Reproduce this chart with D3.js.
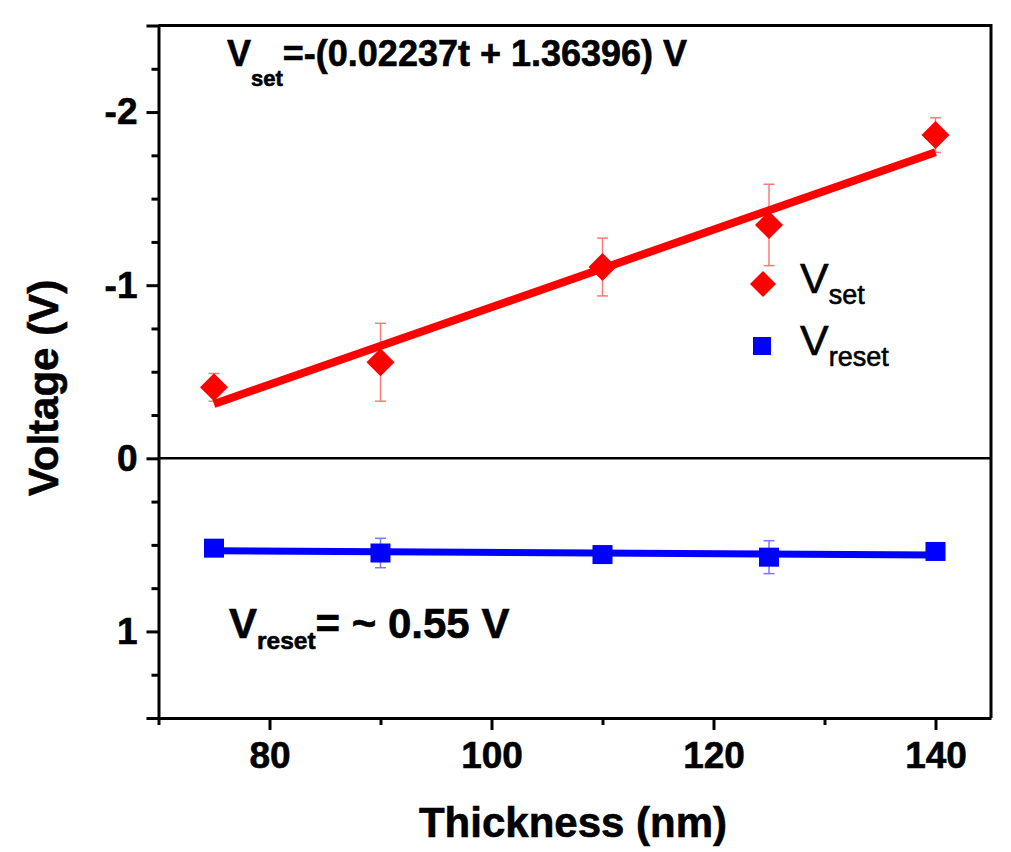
<!DOCTYPE html>
<html>
<head>
<meta charset="utf-8">
<script src="https://cdn.jsdelivr.net/npm/d3@7/dist/d3.min.js"></script>
<style>
  body { margin: 0; background: #fff; }
  svg { font-family: "Liberation Sans", Arial, sans-serif; }
  svg text { stroke: #000; stroke-width: 0.6px; }
</style>
</head>
<body>
<div id="chart"></div>
<script>
// thickness (nm) of the samples
var thickness = [75, 90, 110, 125, 140];

// V_set and V_reset (V), with error bars
var vSet = [-0.41, -0.555, -1.105, -1.348, -1.867];
var vSetErr = [0.08, 0.225, 0.167, 0.235, 0.1];
var vReset = [0.519, 0.547, 0.556, 0.571, 0.538];
var vResetErr = [0.03, 0.085, 0.03, 0.095, 0.03];

// linear fit of V_set: V = -(slope * t - offset)
var setFit = [0.02237, 1.36396];

var xMajorTicks = [80, 100, 120, 140];
var xMinorTicks = [70, 90, 110, 130];
var yMajorTicks = [-2, -1, 0, 1];
var yMinorTicks = [-2.25, -1.75, -1.5, -1.25, -0.75, -0.5, -0.25, 0.25, 0.5, 0.75, 1.25];

var legendNames = ['set', 'reset'];

(function() {
  var W = 1011, H = 852;
  var pLeft = 158.5, pRight = 991, pTop = 25.5, pBottom = 718;

  var svg = d3.select('#chart').append('svg')
              .attr('width', W).attr('height', H);

  var x = d3.scaleLinear().domain([70, 145]).range([pLeft, pRight]);
  var y = d3.scaleLinear().domain([-2.5, 1.5]).range([pTop, pBottom]);

  // axes
  svg.append('g')
    .attr('transform', 'translate(0,' + pBottom + ')')
    .call(d3.axisBottom(x).tickValues(xMajorTicks).tickSize(12).tickSizeOuter(0).tickPadding(12));
  var xMinor = svg.append('g')
    .attr('transform', 'translate(0,' + pBottom + ')')
    .call(d3.axisBottom(x).tickValues(xMinorTicks).tickSize(7).tickFormat(''));
  xMinor.select('.domain').remove();

  svg.append('g')
    .attr('transform', 'translate(' + pLeft + ',0)')
    .call(d3.axisLeft(y).tickValues(yMajorTicks).tickSize(12).tickSizeOuter(12).tickPadding(9)
          .tickFormat(function(d) { return String(d); }));
  var yMinor = svg.append('g')
    .attr('transform', 'translate(' + pLeft + ',0)')
    .call(d3.axisLeft(y).tickValues(yMinorTicks).tickSize(7).tickFormat(''));
  yMinor.select('.domain').remove();

  svg.selectAll('.domain, .tick line')
    .attr('stroke', '#000').attr('stroke-width', 3);
  svg.selectAll('.tick text')
    .attr('fill', '#000')
    .style('font-size', '37px').style('font-weight', 'bold')
    .style('font-family', '"Liberation Sans", Arial, sans-serif');

  // top and right frame
  svg.append('path')
    .attr('d', 'M' + pLeft + ',' + pTop + 'H' + pRight + 'V' + pBottom)
    .attr('fill', 'none').attr('stroke', '#000').attr('stroke-width', 3);

  // zero line
  svg.append('line')
    .attr('x1', pLeft).attr('x2', pRight)
    .attr('y1', y(0)).attr('y2', y(0))
    .attr('stroke', '#000').attr('stroke-width', 2.5);

  // axis titles
  svg.append('text')
    .attr('x', 573).attr('y', 837)
    .attr('text-anchor', 'middle')
    .style('font-size', '42px').style('font-weight', 'bold')
    .text('Thickness (nm)');
  svg.append('text')
    .attr('transform', 'translate(58,388) rotate(-90)')
    .attr('text-anchor', 'middle')
    .style('font-size', '42px').style('font-weight', 'bold')
    .text('Voltage (V)');

  var setPts = thickness.map(function(t, i) { return {t: t, v: vSet[i], e: vSetErr[i]}; });
  var resetPts = thickness.map(function(t, i) { return {t: t, v: vReset[i], e: vResetErr[i]}; });

  var drawErrors = function(pts, color) {
    var g = svg.append('g').attr('stroke', color).attr('stroke-width', 1.5);
    pts.forEach(function(d) {
      var cx = x(d.t), y1 = y(d.v - d.e), y2 = y(d.v + d.e);
      g.append('line').attr('x1', cx).attr('x2', cx).attr('y1', y1).attr('y2', y2);
      g.append('line').attr('x1', cx - 5.5).attr('x2', cx + 5.5).attr('y1', y1).attr('y2', y1);
      g.append('line').attr('x1', cx - 5.5).attr('x2', cx + 5.5).attr('y1', y2).attr('y2', y2);
    });
  };

  drawErrors(setPts, '#ff7a7a');
  drawErrors(resetPts, '#7a7aff');

  // V_set fit line from the equation
  var tEnds = [d3.min(thickness), d3.max(thickness)];
  var line = d3.line().x(function(d) { return x(d[0]); }).y(function(d) { return y(d[1]); });
  svg.append('path')
    .datum(tEnds.map(function(t) { return [t, -(setFit[0] * t - setFit[1])]; }))
    .attr('d', line)
    .attr('fill', 'none').attr('stroke', '#ff0000').attr('stroke-width', 8);

  // V_reset: least squares line through the points
  var tMean = d3.mean(thickness), vMean = d3.mean(vReset);
  var sxy = d3.sum(thickness, function(t, i) { return (t - tMean) * (vReset[i] - vMean); });
  var sxx = d3.sum(thickness, function(t) { return (t - tMean) * (t - tMean); });
  var k = sxy / sxx;
  svg.append('path')
    .datum(tEnds.map(function(t) { return [t, vMean + k * (t - tMean)]; }))
    .attr('d', line)
    .attr('fill', 'none').attr('stroke', '#0000ff').attr('stroke-width', 7);

  // markers
  var diamond = function(s) { return 'M0,' + (-s) + 'L' + s + ',0L0,' + s + 'L' + (-s) + ',0Z'; };
  svg.append('g').selectAll('path').data(setPts).enter().append('path')
    .attr('d', diamond(14))
    .attr('transform', function(d) { return 'translate(' + x(d.t) + ',' + y(d.v) + ')'; })
    .attr('fill', '#ff0000');
  svg.append('g').selectAll('rect').data(resetPts).enter().append('rect')
    .attr('x', function(d) { return x(d.t) - 10; })
    .attr('y', function(d) { return y(d.v) - 9.5; })
    .attr('width', 20).attr('height', 19)
    .attr('fill', '#0000ff');

  // legend
  var lg = svg.append('g');
  lg.append('path').attr('d', diamond(13)).attr('transform', 'translate(763,284)').attr('fill', '#ff0000');
  lg.append('rect').attr('x', 753).attr('y', 337).attr('width', 18).attr('height', 18).attr('fill', '#0000ff');
  lg.selectAll('text').data(legendNames).enter().append('text')
    .attr('x', 800)
    .attr('y', function(d, i) { return 293 + i * 62; })
    .style('font-size', '43px')
    .each(function(d) {
      var t = d3.select(this);
      t.append('tspan').text('V');
      t.append('tspan').attr('dy', 11).style('font-size', '27px').text(d);
    });

  // equations
  var eqSet = svg.append('text').attr('x', 227).attr('y', 66)
    .style('font-size', '36px').style('font-weight', 'bold');
  eqSet.append('tspan').text('V');
  eqSet.append('tspan').attr('dy', 20).style('font-size', '22px').text('set');
  eqSet.append('tspan').attr('dy', -20).text('=-(' + setFit[0] + 't + ' + setFit[1] + ') V');

  var eqReset = svg.append('text').attr('x', 229).attr('y', 638)
    .style('font-size', '42px').style('font-weight', 'bold');
  eqReset.append('tspan').text('V');
  eqReset.append('tspan').attr('dy', 11).style('font-size', '24.5px').text('reset');
  eqReset.append('tspan').attr('dy', -11).text('= ~ ' + d3.format('.2f')(0.55) + ' V');
})();
</script>
</body>
</html>
